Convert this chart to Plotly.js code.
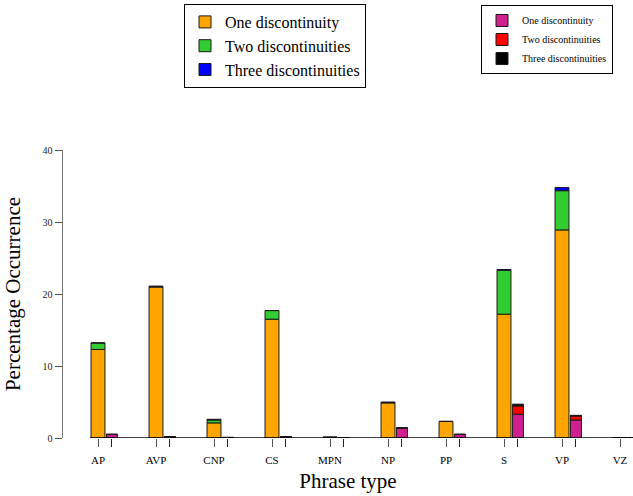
<!DOCTYPE html>
<html>
<head>
<meta charset="utf-8">
<script src="https://cdn.plot.ly/plotly-3.0.1.min.js"></script>
<style>html,body{margin:0;padding:0;background:#fff;}#chart{width:633px;height:496px;}</style>
</head>
<body>
<div id="chart"></div>
<script>
// Phrase types
var categories = ["AP", "AVP", "CNP", "CS", "MPN", "NP", "PP", "S", "VP", "VZ"];
// Group A (left bars)
var oneA   = [12.3, 21.0, 2.1, 16.5, 0.1, 4.9, 2.3, 17.2, 28.9, 0];
var twoA   = [0.9,  0,    0.4, 1.2,  0,   0,   0,   6.1,  5.45, 0];
var threeA = [0,    0.1,  0.1, 0,    0,   0.1, 0,   0.1,  0.45, 0];
// Group B (right bars)
var oneB   = [0.5, 0.2, 0,   0.2, 0, 1.4, 0.5, 3.3,  2.5,  0];
var twoB   = [0,   0,   0,   0,   0, 0,   0,   1.15, 0.55, 0];
var threeB = [0,   0,   0.1, 0,   0, 0,   0,   0.25, 0.1,  0];

var legendLabels = ["One discontinuity", "Two discontinuities", "Three discontinuities"];

var idx = categories.map(function(_, i){ return i; });
var wA = 0.24, wB = 0.19, shiftB = 0.24;

function add(a, b){ return a.map(function(v, i){ return v + b[i]; }); }
var baseA2 = oneA.slice(), baseA3 = add(oneA, twoA);
var baseB2 = oneB.slice(), baseB3 = add(oneB, twoB);

var edge = {color: '#1a1a1a', width: 1};
function bar(y, base, color, name, legend, w, off){
  return {
    type: 'bar', x: idx, y: y, base: base, name: name, legend: legend,
    width: w, offset: off,
    marker: {color: color, line: edge}, hoverinfo: 'skip'
  };
}
var zeros = idx.map(function(){ return 0; });
var traces = [
  bar(oneA, zeros, '#FFA500', legendLabels[0], 'legend', wA, -wA/2),
  bar(twoA, baseA2, '#32CD32', legendLabels[1], 'legend', wA, -wA/2),
  bar(threeA, baseA3, '#0000FF', legendLabels[2], 'legend', wA, -wA/2),
  bar(oneB, zeros, '#D02090', legendLabels[0], 'legend2', wB, shiftB - wB/2),
  bar(twoB, baseB2, '#FF0000', legendLabels[1], 'legend2', wB, shiftB - wB/2),
  bar(threeB, baseB3, '#000000', legendLabels[2], 'legend2', wB, shiftB - wB/2)
];

var serif = 'Liberation Serif, Times New Roman, serif';
var xr = [-35/58, -35/58 + 570/58];
var layout = {
  width: 633, height: 496,
  margin: {l: 63, r: 0, t: 150, b: 58, pad: 0, autoexpand: false},
  paper_bgcolor: '#fff', plot_bgcolor: '#fff',
  barmode: 'overlay',
  showlegend: true,
  font: {family: serif, color: '#000'},
  xaxis: {
    domain: [0, 1], range: xr, anchor: 'y', automargin: false,
    tickmode: 'array', tickvals: idx, ticktext: categories, tickangle: 0,
    ticks: 'outside', ticklen: 8, tickwidth: 1, tickcolor: '#555',
    ticklabelstandoff: 4,
    minor: {tickmode: 'array', tickvals: idx.map(function(i){ return i + shiftB; }),
            ticks: 'outside', ticklen: 8, tickwidth: 1, tickcolor: '#222', showgrid: false},
    showline: false, showgrid: false, zeroline: false,
    tickfont: {family: serif, size: 11, color: '#000'},
    title: {text: 'Phrase type', font: {family: serif, size: 21, color: '#000'}, standoff: 8}
  },
  yaxis: {
    range: [0, 40], anchor: 'x', side: 'left', automargin: false,
    tickmode: 'array', tickvals: [0, 10, 20, 30, 40],
    ticks: 'outside', ticklen: 7, tickwidth: 1, tickcolor: '#555',
    showline: true, linecolor: '#777', linewidth: 1.5,
    showgrid: false, zeroline: false,
    tickfont: {family: serif, size: 10, color: '#222'},
    title: {text: 'Percentage Occurrence', font: {family: serif, size: 21, color: '#000'}, standoff: 16}
  },
  shapes: [{
    type: 'line', xref: 'paper', yref: 'y', x0: 27/570, x1: 1, y0: 0, y1: 0,
    line: {color: '#000', width: 1.5}, layer: 'above'
  }],
  legend: {
    xref: 'paper', yref: 'container',
    x: (184 - 63)/570, y: 1 - 4/496, xanchor: 'left', yanchor: 'top',
    bordercolor: '#000', borderwidth: 1, bgcolor: '#fff',
    font: {family: serif, size: 16, color: '#000'},
    traceorder: 'normal', tracegroupgap: 0, itemclick: false
  },
  legend2: {
    xref: 'paper', yref: 'container',
    x: (481 - 63)/570, y: 1 - 5/496, xanchor: 'left', yanchor: 'top',
    bordercolor: '#000', borderwidth: 1, bgcolor: '#fff',
    font: {family: serif, size: 10, color: '#000'},
    traceorder: 'normal', tracegroupgap: 0, itemclick: false
  }
};
Plotly.newPlot('chart', traces, layout, {displayModeBar: false, staticPlot: true});
</script>
</body>
</html>
